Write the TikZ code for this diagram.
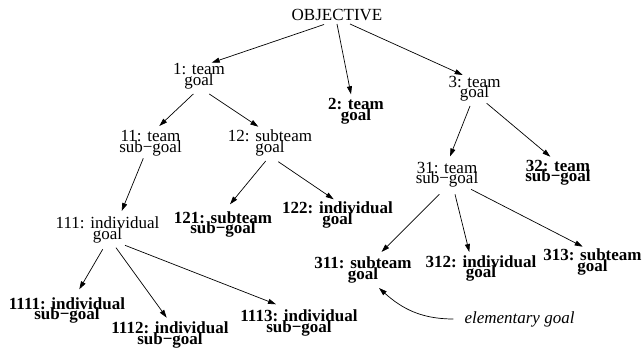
\documentclass[tikz,border=0pt]{standalone}
\usepackage{fontspec}
\setmainfont{Liberation Serif}
\usetikzlibrary{arrows.meta}
% tight two-line labels
\newcommand\goalfont{\fontsize{17}{10.5}\selectfont\lineskiplimit=-\maxdimen\lineskip=0pt}
\begin{document}
\begin{tikzpicture}[x=1pt,y=-1pt,
  goal/.style={inner sep=0pt, align=center, font=\goalfont},
  leaf/.style={goal, font=\goalfont\bfseries},
  note/.style={inner sep=0pt, font=\goalfont\itshape},
  edge/.style={-{Triangle[length=8pt,width=5pt]}, line width=0.7pt},
]
\useasboundingbox (0,0) rectangle (642,352);

% goals
\node[goal] (obj)   at (337,15)    {OBJECTIVE};
\node[goal] (n1)    at (199,76)    {1: team\\goal};
\node[leaf] (n2)    at (356,111.5) {2: team\\goal};
\node[goal] (n3)    at (474.5,88.5){3: team\\goal};
\node[goal] (n11)   at (150.5,143) {11: team\\sub−goal};
\node[goal] (n12)   at (270,143)   {12: subteam\\goal};
\node[goal] (n31)   at (447,174.7) {31: team\\sub−goal};
\node[leaf] (n32)   at (558,173)   {32: team\\sub−goal};
\node[goal] (n111)  at (107.5,230) {111: individual\\goal};
\node[leaf] (n121)  at (223,224.5) {121: subteam\\sub−goal};
\node[leaf] (n122)  at (337.5,215) {122: individual\\goal};
\node[leaf] (n311)  at (363,270)   {311: subteam\\goal};
\node[leaf] (n312)  at (481,268.5) {312: individual\\goal};
\node[leaf] (n313)  at (592.5,262) {313: subteam\\goal};
\node[leaf] (n1111) at (67,310.7)  {1111: individual\\sub−goal};
\node[leaf] (n1112) at (170,335)   {1112: individual\\sub−goal};
\node[leaf] (n1113) at (299,323)   {1113: individual\\sub−goal};
\node[note] (elem)  at (519.5,319) {elementary goal};

% decomposition arrows
\draw[edge] ([shift={(-13,9.5)}]obj.center) -- ([shift={(12.7,-13.3)}]n1.center);
\draw[edge] ([shift={(0,9)}]obj.center)     -- ([shift={(-5,-17.2)}]n2.center);
\draw[edge] ([shift={(13,9)}]obj.center)    -- ([shift={(-11.8,-13.5)}]n3.center);

\draw[edge] ([shift={(-5.7,18)}]n1.center)  -- ([shift={(8.8,-17)}]n11.center);
\draw[edge] ([shift={(10.3,18)}]n1.center)  -- ([shift={(-11.7,-16.3)}]n12.center);

\draw[edge] ([shift={(-4.5,17.5)}]n3.center) -- ([shift={(3,-18.2)}]n31.center);
\draw[edge] ([shift={(12.2,14.8)}]n3.center) -- ([shift={(-7.7,-16.3)}]n32.center);

\draw[edge] ([shift={(-7.2,15.3)}]n11.center) -- ([shift={(14.2,-19)}]n111.center);
\draw[edge] ([shift={(-4.3,18)}]n12.center)   -- ([shift={(7,-20.2)}]n121.center);
\draw[edge] ([shift={(8.3,18.7)}]n12.center)  -- ([shift={(-3.8,-15.7)}]n122.center);

\draw[edge] ([shift={(-7.7,19.6)}]n31.center) -- ([shift={(18.5,-18)}]n311.center);
\draw[edge] ([shift={(8,19.6)}]n31.center)    -- ([shift={(-11.7,-16.5)}]n312.center);
\draw[edge] ([shift={(24,14.6)}]n31.center)   -- ([shift={(-9.8,-15.3)}]n313.center);

\draw[edge] ([shift={(-4.8,19.3)}]n111.center) -- ([shift={(12.3,-21.4)}]n1111.center);
\draw[edge] ([shift={(8.5,17.7)}]n111.center)  -- ([shift={(-3.3,-17.3)}]n1112.center);
\draw[edge] ([shift={(17.5,15.3)}]n111.center) -- ([shift={(-23,-18.7)}]n1113.center);

% annotation
\draw[edge] ([xshift=-11pt]elem.west) to[out=180,in=-42] ([shift={(16,18)}]n311.center);
\end{tikzpicture}
\end{document}
